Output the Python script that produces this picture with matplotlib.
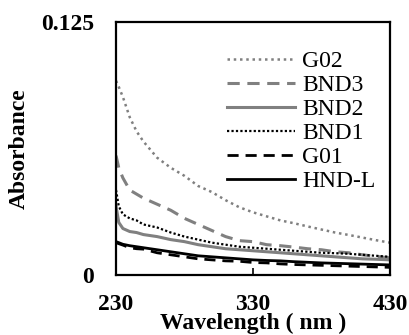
import matplotlib
matplotlib.use("Agg")
import matplotlib.pyplot as plt

plt.rcParams['font.family'] = ['Liberation Serif', 'DejaVu Serif']

# wavelength (nm) and absorbance
wavelength = [230, 232, 235, 240, 245, 250, 260, 270, 280, 290, 300, 310, 320,
              330, 340, 350, 360, 370, 380, 390, 400, 410, 420, 430]

g02 = [0.096, 0.093, 0.088, 0.078, 0.071, 0.066, 0.058, 0.053, 0.049, 0.044,
       0.041, 0.037, 0.0335, 0.031, 0.029, 0.027, 0.0256, 0.024, 0.0225, 0.021,
       0.0198, 0.0185, 0.0172, 0.016]
bnd3 = [0.059, 0.053, 0.048, 0.042, 0.040, 0.038, 0.035, 0.032, 0.028, 0.025,
        0.022, 0.019, 0.017, 0.0165, 0.015, 0.0145, 0.0138, 0.013, 0.0125, 0.0115,
        0.011, 0.010, 0.0092, 0.0085]
bnd2 = [0.034, 0.026, 0.023, 0.0215, 0.021, 0.020, 0.019, 0.0175, 0.0165, 0.015,
        0.014, 0.013, 0.0125, 0.012, 0.0115, 0.011, 0.0105, 0.010, 0.0095, 0.009,
        0.0085, 0.008, 0.0078, 0.0075]
bnd1 = [0.042, 0.034, 0.030, 0.028, 0.027, 0.025, 0.0235, 0.021, 0.019, 0.0175,
        0.016, 0.015, 0.014, 0.0135, 0.013, 0.0125, 0.012, 0.0115, 0.011, 0.0108,
        0.0105, 0.010, 0.0095, 0.009]
g01 = [0.016, 0.0155, 0.0148, 0.0135, 0.013, 0.0128, 0.011, 0.010, 0.009, 0.008,
       0.0075, 0.007, 0.0068, 0.0062, 0.006, 0.0055, 0.0052, 0.005, 0.0048, 0.0046,
       0.0044, 0.0042, 0.0040, 0.0038]
hndl = [0.0165, 0.016, 0.0152, 0.0145, 0.014, 0.0135, 0.0125, 0.0115, 0.0105, 0.0095,
        0.009, 0.0085, 0.008, 0.0075, 0.0072, 0.007, 0.0066, 0.0063, 0.006, 0.0058,
        0.0056, 0.0054, 0.0052, 0.005]

x_ticks = [230, 330, 430]
y_ticks = [0, 0.125]
y_ticklabels = ['0', '0.125']

fig = plt.figure(figsize=(4.1, 3.35), dpi=100)
ax = fig.add_axes([0.283, 0.179, 0.668, 0.755])

gray = '#808080'
ax.plot(wavelength, g02, color=gray, ls=(0, (1, 1.5)), lw=1.8, label='G02')
ax.plot(wavelength, bnd3, color=gray, ls=(0, (4, 2.5)), lw=2.2, label='BND3')
ax.plot(wavelength, bnd2, color=gray, ls='-', lw=2.2, label='BND2')
ax.plot(wavelength, bnd1, color='black', ls=(0, (1, 1)), lw=1.6, label='BND1')
ax.plot(wavelength, g01, color='black', ls=(0, (4, 2.5)), lw=2.0, label='G01')
ax.plot(wavelength, hndl, color='black', ls='-', lw=2.0, label='HND-L')

ax.set_xlim(230, 430)
ax.set_ylim(0, 0.125)
ax.set_xticks(x_ticks)
ax.set_xticklabels([str(t) for t in x_ticks], fontsize=17, fontweight='bold')
ax.set_yticks(y_ticks)
ax.set_yticklabels(y_ticklabels, fontsize=17, fontweight='bold')
ax.tick_params(direction='in', length=5, width=1.2, pad=16)
ax.tick_params(axis='x', pad=14)

for s in ax.spines.values():
    s.set_linewidth(1.6)

# the reference crowds this label right against the bottom edge
ax.set_xlabel('Wavelength ( nm )', fontsize=17, fontweight='bold', labelpad=-2)
ax.set_ylabel('Absorbance', fontsize=17, fontweight='bold', labelpad=8)

ax.legend(loc='upper right', frameon=False, fontsize=17, labelspacing=0.1,
          handlelength=2.9, handletextpad=0.3, borderaxespad=0.2,
          bbox_to_anchor=(1.0, 0.942))

fig.savefig('out.png', dpi=100)
